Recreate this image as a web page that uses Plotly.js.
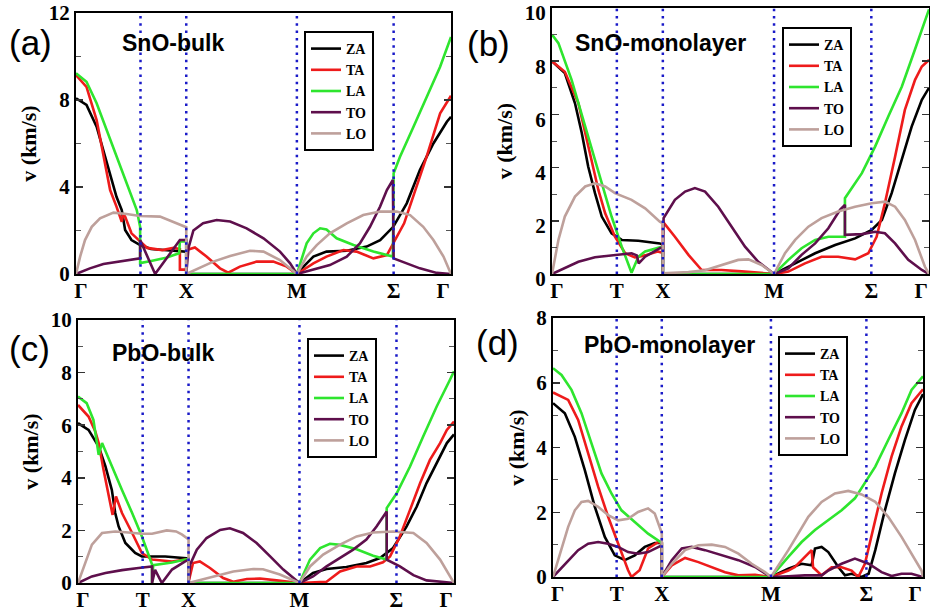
<!DOCTYPE html>
<html><head><meta charset="utf-8">
<script src="https://cdn.plot.ly/plotly-3.0.1.min.js"></script>
<style>html,body{margin:0;padding:0;background:#fff}#chart{width:930px;height:614px}</style>
</head><body><div id="chart"></div><script>
// ---------- shared path / labels ----------
const kPoints = [0, 0.172, 0.294, 0.589, 0.847, 1];
const kLabelPos = [0.013, 0.172, 0.294, 0.589, 0.847, 0.979];
const kLabels = ['Γ', 'T', 'X', 'M', 'Σ', 'Γ'];
const branchNames = ['ZA', 'TA', 'LA', 'TO', 'LO'];
const panelTitles = ['SnO-bulk', 'SnO-monolayer', 'PbO-bulk', 'PbO-monolayer'];
const panelTags = ['(a)', '(b)', '(c)', '(d)'];
const panelYMax = [12, 10, 10, 8];
const panelYDtick = [4, 2, 2, 2];

// ---------- (a) SnO-bulk ----------
const a_ZA_k = [0, .028, .055, .082, .108, .122, .131, .148, .171, .2, .24, .28, .294, .294, .45, .589, .61, .633, .668, .722, .775, .811, .846, .882, .917, .953, .989, 1];
const a_ZA_v = [8.08, 7.77, 6.77, 5.1, 3.55, 2.94, 2.02, 1.56, 1.33, 1.15, 1.1, 1.05, 1.03, 0, 0, 0, 0.4, 0.8, 1.03, 1.07, 1.26, 1.56, 2.17, 3.25, 4.78, 6.0, 7.0, 7.23];
const a_TA_k = [0, .028, .055, .073, .091, .108, .122, .126, .131, .148, .171, .19, .23, .26, .277, .277, .294, .295, .317, .348, .384, .406, .437, .482, .526, .562, .589, .633, .668, .713, .748, .793, .829, .846, .875, .902, .935, .971, .997, 1];
const a_TA_v = [9.15, 8.6, 7.08, 5.4, 3.86, 3.1, 2.4, 2.75, 2.64, 1.87, 1.49, 1.2, 1.1, 1.2, 1.15, 0.2, 0.2, 1.1, 1.22, 0.8, 0.26, 0.06, 0.34, 0.57, 0.57, 0.34, 0, 0.49, 0.8, 1.1, 1.03, 0.72, 0.87, 1.41, 2.33, 3.71, 5.4, 7.39, 8.15, 8.2];
const a_LA_k = [0, .028, .055, .082, .108, .135, .162, .171, .171, .2, .24, .275, .277, .294, .294, .45, .589, .615, .633, .651, .668, .695, .74, .793, .845, .847, .864, .9, .935, .971, 1];
const a_LA_v = [9.23, 8.84, 7.85, 6.62, 5.39, 4.17, 2.94, 2.17, 0.5, 0.6, 0.75, 0.95, 1.5, 1.5, 0, 0, 0, 1.41, 1.87, 2.1, 2.05, 1.64, 1.33, 1.03, 0.8, 4.63, 5.39, 6.77, 8.15, 9.53, 10.9];
const a_TO_k = [0, .037, .073, .117, .171, .171, .211, .277, .294, .294, .3, .313, .339, .375, .411, .455, .5, .544, .571, .589, .633, .677, .722, .757, .784, .811, .829, .845, .847, .882, .917, .962, 1];
const a_TO_v = [0, 0.26, 0.46, 0.57, 0.72, 1.56, 0, 1.56, 1.56, 0, 1.2, 2.0, 2.33, 2.48, 2.41, 2.1, 1.64, 1.03, 0.49, 0, 0.2, 0.41, 0.8, 1.41, 2.17, 3.1, 3.86, 4.32, 0.72, 0.49, 0.26, 0.05, 0];
const a_LO_k = [0, .011, .024, .042, .064, .1, .135, .171, .224, .259, .284, .294, .294, .33, .366, .411, .464, .5, .544, .589, .615, .642, .677, .722, .766, .811, .855, .891, .926, .953, .98, 1];
const a_LO_v = [0, 0.8, 1.56, 2.17, 2.56, 2.82, 2.76, 2.67, 2.64, 2.4, 2.2, 2.15, 0, 0.3, 0.57, 0.83, 1.07, 1.03, 0.64, 0, 0.8, 1.33, 1.87, 2.33, 2.71, 2.87, 2.87, 2.71, 2.17, 1.56, 0.8, 0];

// ---------- (b) SnO-monolayer ----------
const b_ZA_k = [0, .034, .061, .079, .096, .114, .132, .158, .185, .229, .286, .294, .294, .45, .589, .645, .698, .751, .804, .848, .875, .901, .928, .954, .981, 1];
const b_ZA_v = [8.0, 7.55, 6.42, 5.3, 4.04, 3.04, 2.16, 1.53, 1.28, 1.25, 1.15, 1.1, 0, 0, 0, 0.4, 0.78, 1.09, 1.34, 1.66, 2.03, 3.04, 4.29, 5.54, 6.55, 7.0];
const b_TA_k = [0, .034, .07, .088, .105, .123, .141, .167, .194, .22, .247, .28, .294, .294, .326, .362, .397, .45, .503, .565, .589, .627, .671, .715, .759, .804, .839, .861, .883, .91, .936, .963, .981, 1];
const b_TA_v = [8.0, 7.6, 6.42, 5.3, 4.17, 3.16, 2.28, 1.4, 0.78, 0.62, 0.7, 0.85, 0.8, 1.97, 1.4, 0.72, 0.15, 0.15, 0.1, 0.02, 0, 0.09, 0.4, 0.65, 0.65, 0.55, 0.78, 1.4, 2.66, 4.41, 6.17, 7.3, 7.8, 8.05];
const b_LA_k = [0, .017, .052, .088, .123, .158, .185, .211, .229, .247, .286, .294, .294, .45, .589, .627, .662, .698, .733, .777, .777, .822, .857, .892, .928, .963, .98, 1];
const b_LA_v = [9.0, 8.68, 7.3, 5.54, 3.79, 2.16, 1.03, 0.05, 0.65, 0.85, 1.0, 1.0, 0, 0, 0, 0.53, 0.97, 1.28, 1.4, 1.4, 2.85, 3.79, 4.79, 5.92, 7.05, 8.45, 9.15, 9.95];
const b_TO_k = [0, .034, .07, .114, .17, .211, .225, .23, .247, .286, .294, .294, .296, .326, .353, .379, .406, .441, .477, .512, .547, .589, .627, .662, .698, .733, .764, .777, .777, .822, .857, .883, .91, .945, .981, 1];
const b_TO_v = [0, 0.21, 0.46, 0.63, 0.72, 0.78, 0.7, 0.4, 0.65, 0.97, 1.0, 0, 2.1, 2.79, 3.1, 3.23, 3.1, 2.53, 1.78, 1.03, 0.46, 0, 0.21, 0.72, 1.15, 1.72, 2.41, 2.6, 1.47, 1.5, 1.59, 1.53, 1.15, 0.53, 0.15, 0];
const b_LO_k = [0, .017, .034, .061, .088, .114, .141, .167, .211, .247, .286, .294, .294, .362, .406, .45, .494, .521, .556, .589, .618, .645, .68, .715, .759, .804, .848, .883, .91, .936, .963, .989, 1];
const b_LO_v = [0, 1.28, 2.16, 2.91, 3.29, 3.41, 3.29, 3.04, 2.79, 2.47, 1.97, 1.9, 0.03, 0.07, 0.14, 0.34, 0.53, 0.55, 0.34, 0, 0.78, 1.28, 1.78, 2.1, 2.35, 2.53, 2.66, 2.72, 2.53, 2.03, 1.28, 0.28, 0];

// ---------- (c) PbO-bulk ----------
const c_ZA_k = [0, .028, .055, .073, .09, .099, .108, .126, .152, .17, .232, .285, .294, .294, .45, .589, .625, .661, .714, .767, .803, .838, .874, .901, .927, .954, .981, 1];
const c_ZA_v = [6.08, 5.82, 5.19, 4.43, 3.54, 2.66, 2.15, 1.52, 1.14, 1.01, 1.01, 0.95, 0.93, 0, 0, 0, 0.38, 0.53, 0.61, 0.76, 0.95, 1.33, 2.15, 2.91, 3.8, 4.56, 5.32, 5.65];
const c_TA_k = [0, .028, .046, .055, .068, .081, .092, .101, .117, .144, .17, .197, .25, .285, .294, .295, .306, .324, .351, .386, .413, .449, .484, .528, .589, .644, .661, .697, .741, .777, .811, .83, .856, .883, .91, .936, .963, .981, 1];
const c_TA_v = [6.77, 6.33, 5.76, 5.32, 4.3, 3.42, 2.59, 3.29, 2.66, 1.9, 1.14, 0.89, 0.82, 0.89, 0.88, 0.1, 0.76, 0.82, 0.57, 0.19, 0.05, 0.15, 0.17, 0.1, 0, 0.04, 0.05, 0.44, 0.63, 0.63, 0.79, 1.01, 1.77, 2.78, 3.8, 4.68, 5.32, 5.82, 6.14];
const c_LA_k = [0, .023, .041, .055, .064, .09, .117, .144, .17, .197, .197, .2, .25, .294, .294, .45, .589, .617, .644, .67, .697, .741, .785, .821, .821, .848, .883, .918, .954, .989, 1];
const c_LA_v = [7.09, 6.84, 6.2, 4.87, 5.32, 4.43, 3.54, 2.66, 1.77, 0.7, 0, 0.68, 0.78, 0.92, 0, 0, 0, 0.89, 1.33, 1.49, 1.45, 1.28, 1.04, 0.89, 2.85, 3.42, 4.43, 5.57, 6.71, 7.72, 8.05];
const c_TO_k = [0, .037, .073, .117, .161, .197, .197, .205, .223, .25, .285, .294, .294, .298, .316, .342, .378, .404, .439, .475, .511, .546, .589, .625, .661, .697, .732, .767, .794, .821, .821, .856, .892, .927, 1];
const c_TO_v = [0, 0.25, 0.38, 0.49, 0.57, 0.63, 0, 0.5, 0, 0.51, 0.82, 0.88, 0, 0.7, 1.27, 1.71, 2.02, 2.08, 1.9, 1.52, 1.01, 0.51, 0, 0.25, 0.63, 0.95, 1.27, 1.65, 2.15, 2.72, 0.89, 0.63, 0.3, 0.1, 0];
const c_LO_k = [0, .02, .037, .064, .099, .134, .17, .197, .236, .261, .277, .29, .294, .294, .359, .413, .466, .492, .537, .589, .617, .652, .697, .741, .785, .838, .892, .927, .963, .989, 1];
const c_LO_v = [0, 0.82, 1.46, 1.9, 1.96, 1.92, 1.87, 1.87, 2.0, 1.96, 1.84, 1.7, 1.65, 0, 0.25, 0.44, 0.53, 0.52, 0.32, 0, 0.63, 1.08, 1.46, 1.77, 1.92, 1.96, 1.9, 1.52, 0.89, 0.25, 0];

// ---------- (d) PbO-monolayer ----------
const d_ZA_k = [0, .032, .059, .086, .113, .14, .167, .194, .221, .248, .275, .294, .294, .45, .589, .636, .672, .699, .708, .726, .744, .771, .789, .807, .834, .853, .871, .897, .924, .951, .978, 1];
const d_ZA_v = [5.37, 5.06, 4.33, 3.3, 2.17, 1.24, 0.67, 0.52, 0.67, 0.93, 1.05, 1.05, 0, 0, 0, 0.26, 0.41, 0.36, 0.88, 0.93, 0.77, 0.31, 0.05, 0.1, 0, 0.1, 0.83, 2.06, 3.2, 4.23, 5.16, 5.65];
const d_TA_k = [0, .041, .068, .095, .122, .149, .176, .203, .212, .234, .257, .284, .294, .294, .321, .357, .393, .429, .465, .501, .546, .589, .636, .654, .672, .69, .699, .703, .726, .753, .78, .807, .825, .843, .861, .888, .915, .942, .969, 1];
const d_TA_v = [5.7, 5.47, 4.85, 3.82, 2.79, 1.86, 1.03, 0.21, 0, 0.21, 0.88, 1.08, 1.05, 0, 0.36, 0.59, 0.46, 0.31, 0.15, 0.05, 0.07, 0, 0.2, 0.31, 0.52, 0.75, 0.83, 0.3, 0.05, 0.3, 0.3, 0.2, 0, 0.41, 1.24, 2.58, 3.72, 4.65, 5.37, 5.8];
const d_LA_k = [0, .023, .05, .077, .104, .131, .158, .185, .221, .257, .294, .294, .45, .589, .636, .672, .708, .744, .78, .816, .847, .871, .906, .942, .969, 1];
const d_LA_v = [6.45, 6.24, 5.78, 5.06, 4.13, 3.2, 2.58, 2.06, 1.7, 1.34, 1.05, 0, 0, 0, 0.62, 1.08, 1.45, 1.75, 2.06, 2.43, 3.0, 3.41, 4.23, 5.06, 5.78, 6.2];
const d_TO_k = [0, .041, .068, .095, .122, .149, .176, .203, .23, .257, .294, .294, .321, .348, .375, .411, .456, .501, .546, .589, .636, .681, .726, .744, .78, .816, .853, .888, .915, .942, .969, 1];
const d_TO_v = [0, 0.52, 0.83, 1.03, 1.08, 1.03, 0.93, 0.77, 0.72, 0.77, 0.98, 0, 0.52, 0.88, 0.93, 0.83, 0.67, 0.52, 0.31, 0, 0.02, 0.05, 0.05, 0.2, 0.41, 0.57, 0.41, 0.15, 0.03, 0.1, 0.1, 0];
const d_LO_k = [0, .023, .041, .059, .077, .095, .122, .149, .176, .203, .23, .257, .275, .291, .294, .294, .321, .357, .393, .429, .465, .501, .537, .573, .589, .636, .663, .69, .726, .762, .798, .834, .871, .906, .942, .969, .996, 1];
const d_LO_v = [0, 0.83, 1.55, 2.06, 2.32, 2.35, 2.17, 1.91, 1.75, 1.8, 2.01, 2.12, 1.96, 1.45, 1.35, 0, 0.41, 0.83, 0.98, 1.0, 0.93, 0.72, 0.41, 0.15, 0, 0.83, 1.34, 1.86, 2.32, 2.58, 2.66, 2.55, 2.32, 1.86, 1.24, 0.72, 0.2, 0];

const panelData = [
  [[a_ZA_k, a_ZA_v], [a_TA_k, a_TA_v], [a_LA_k, a_LA_v], [a_TO_k, a_TO_v], [a_LO_k, a_LO_v]],
  [[b_ZA_k, b_ZA_v], [b_TA_k, b_TA_v], [b_LA_k, b_LA_v], [b_TO_k, b_TO_v], [b_LO_k, b_LO_v]],
  [[c_ZA_k, c_ZA_v], [c_TA_k, c_TA_v], [c_LA_k, c_LA_v], [c_TO_k, c_TO_v], [c_LO_k, c_LO_v]],
  [[d_ZA_k, d_ZA_v], [d_TA_k, d_TA_v], [d_LA_k, d_LA_v], [d_TO_k, d_TO_v], [d_LO_k, d_LO_v]]
];

// ---------- styling / geometry ----------
const branchColors = ['#000000', '#ee1b1b', '#2ee52e', '#5e0f4c', '#bea09b'];
const W = 930, H = 614;
const geom = [
  {l: 76, r: 451, t: 13, b: 274, leg: [304, 31], tag: [30, 42], ttl: [120, 43], yshift: 0},
  {l: 552, r: 929, t: 8, b: 274, leg: [782, 27], tag: [489, 43], ttl: [573, 43], yshift: 5},
  {l: 78, r: 454, t: 320, b: 583, leg: [307, 338], tag: [29, 348], ttl: [110, 353], yshift: 0},
  {l: 553, r: 923, t: 318, b: 577, leg: [778, 336], tag: [497, 342], ttl: [582, 345], yshift: 0}
];
const serifBold = {family: 'Liberation Serif, Times New Roman, serif', weight: 'bold', color: '#000'};

const traces = [];
const layout = {
  width: W, height: H, margin: {l: 0, r: 0, t: 0, b: 0},
  paper_bgcolor: '#fff', plot_bgcolor: '#fff', showlegend: true,
  shapes: [], annotations: []
};

geom.forEach((g, p) => {
  const sfx = p === 0 ? '' : String(p + 1);
  const xa = 'x' + sfx, ya = 'y' + sfx;
  const legName = 'legend' + sfx;
  panelData[p].forEach((series, i) => {
    traces.push({
      type: 'scatter', mode: 'lines', x: series[0], y: series[1],
      name: branchNames[i], xaxis: xa, yaxis: ya, legend: legName,
      line: {color: branchColors[i], width: 2.6},
      hoverinfo: 'skip'
    });
  });
  layout['xaxis' + sfx] = {
    domain: [g.l / W, g.r / W], anchor: ya, range: [0, 1],
    tickmode: 'array', tickvals: kLabelPos, ticktext: kLabels,
    ticks: '', showgrid: false, zeroline: false,
    showline: true, linewidth: 2, linecolor: '#000', mirror: true,
    ticklabeloverflow: 'allow', ticklabelstandoff: -3,
    tickfont: Object.assign({size: 21}, serifBold)
  };
  layout['yaxis' + sfx] = {
    domain: [1 - g.b / H, 1 - g.t / H], anchor: xa, range: [0, panelYMax[p]],
    dtick: panelYDtick[p], tick0: 0, ticks: 'inside', ticklen: 7, tickwidth: 1.5, tickcolor: '#333',
    minor: {dtick: panelYDtick[p] / 2, ticks: 'inside', ticklen: 5, tickwidth: 1, tickcolor: '#555', showgrid: false},
    showgrid: false, zeroline: false,
    showline: true, linewidth: 2, linecolor: '#000', mirror: 'ticks',
    ticklabeloverflow: 'allow', ticklabelshift: g.yshift,
    tickfont: Object.assign({size: 21}, serifBold),
    title: {text: 'v (km/s)', font: Object.assign({size: 22}, serifBold), standoff: 6}
  };
  layout[legName] = {
    x: g.leg[0] / W, y: 1 - g.leg[1] / H, xanchor: 'left', yanchor: 'top',
    bgcolor: '#fff', bordercolor: '#000', borderwidth: 2,
    font: Object.assign({size: 14}, serifBold), itemwidth: 30, tracegroupgap: 0
  };
  kPoints.slice(1, 5).forEach(k => {
    layout.shapes.push({
      type: 'line', xref: xa, yref: ya + ' domain', x0: k, x1: k, y0: 0, y1: 1,
      line: {color: '#1a1ac8', width: 2.5, dash: '2.5px,4.8px'}, layer: 'above'
    });
  });
  layout.annotations.push({
    xref: 'paper', yref: 'paper', x: g.tag[0] / W, y: 1 - g.tag[1] / H,
    xanchor: 'center', yanchor: 'middle', showarrow: false, text: panelTags[p],
    font: {family: 'Liberation Sans, Arial, sans-serif', size: 35, color: '#000'}
  });
  layout.annotations.push({
    xref: 'paper', yref: 'paper', x: g.ttl[0] / W, y: 1 - g.ttl[1] / H,
    xanchor: 'left', yanchor: 'middle', showarrow: false, text: panelTitles[p],
    font: {family: 'Liberation Sans, Arial, sans-serif', size: 23, weight: 'bold', color: '#000'}
  });
});

Plotly.newPlot('chart', traces, layout, {staticPlot: true, displayModeBar: false});
</script></body></html>
